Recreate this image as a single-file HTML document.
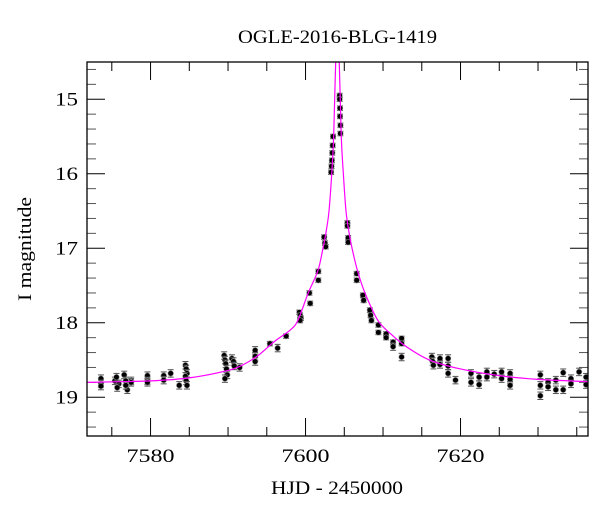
<!DOCTYPE html>
<html><head><meta charset="utf-8"><style>
html,body{margin:0;padding:0;background:#fff;}
svg text{font-family:"Liberation Serif",serif;fill:#000;}
</style></head><body>
<svg id="chart" width="600" height="512" xmlns="http://www.w3.org/2000/svg">
<text x="238" y="43" font-size="19" textLength="199" lengthAdjust="spacingAndGlyphs">OGLE-2016-BLG-1419</text>
<text x="271" y="494" font-size="19" textLength="132" lengthAdjust="spacingAndGlyphs">HJD - 2450000</text>
<text x="0" y="0" font-size="19" text-anchor="middle" textLength="104" lengthAdjust="spacingAndGlyphs" transform="translate(31,249) rotate(-90)">I magnitude</text>
<g id="plot"></g>
</svg>
<script>
const xTicksMajor = [7580, 7600, 7620];
const yTicksMajor = [15, 16, 17, 18, 19];
const modelT = [7571.8,7580,7585,7590,7592,7594,7596,7598,7599,7600.35,7601.6,7602.25,7602.65,7603.03,7603.38,7603.63,7603.89,7604.1,7604.35,7604.61,7604.88,7605.22,7605.6,7606.0,7606.7,7607.67,7609.35,7611,7613,7616,7620,7625,7630,7636.4];
const modelMag = [18.80,18.78,18.74,18.64,18.56,18.43,18.25,18.1,17.97,17.6,17.3,17.0,16.78,16.5,16.0,15.5,14.5,14.2,14.5,15.5,16.0,16.5,16.78,17.0,17.3,17.6,17.97,18.15,18.32,18.5,18.62,18.71,18.76,18.79];
const obsT = [7573.6,7573.6,7573.6,7575.4,7575.6,7575.9,7575.7,7576.6,7576.8,7577.0,7576.8,7577.5,7577.5,7579.6,7579.6,7579.6,7581.7,7581.7,7582.6,7583.7,7584.5,7584.6,7584.7,7584.5,7584.6,7584.7,7589.5,7589.6,7589.7,7589.8,7589.9,7589.6,7590.5,7590.7,7590.8,7591.5,7593.5,7593.5,7593.5,7595.4,7596.4,7597.5,7599.2,7599.3,7599.4,7599.3,7600.5,7600.6,7601.65,7601.65,7602.4,7602.5,7602.6,7603.3,7603.35,7603.4,7603.45,7603.5,7603.55,7604.4,7604.4,7604.45,7604.45,7604.5,7604.5,7605.4,7605.4,7605.5,7605.5,7606.6,7606.6,7607.4,7607.5,7608.3,7608.4,7608.5,7609.4,7609.4,7610.4,7610.4,7611.3,7611.3,7612.4,7612.4,7612.4,7616.3,7616.4,7616.5,7617.35,7617.35,7618.4,7618.4,7618.4,7619.35,7621.35,7621.35,7622.4,7622.4,7623.4,7623.4,7624.35,7625.3,7625.3,7626.4,7626.4,7626.4,7630.3,7630.3,7630.3,7631.3,7631.3,7632.3,7632.3,7633.25,7633.25,7634.25,7634.25,7635.3,7636.2,7636.2];
const obsMag = [18.75,18.82,18.85,18.78,18.73,18.82,18.87,18.7,18.78,18.9,18.84,18.78,18.8,18.71,18.78,18.8,18.71,18.77,18.68,18.84,18.57,18.62,18.68,18.72,18.78,18.84,18.44,18.5,18.55,18.62,18.7,18.75,18.48,18.52,18.58,18.6,18.37,18.45,18.52,18.28,18.34,18.18,17.86,17.9,17.94,17.97,17.6,17.74,17.31,17.43,16.85,16.93,16.98,15.98,15.9,15.82,15.72,15.62,15.5,14.95,15.0,15.12,15.23,15.35,15.46,16.66,16.7,16.86,16.92,17.34,17.43,17.63,17.7,17.83,17.9,17.97,18.03,18.13,18.15,18.2,18.26,18.32,18.21,18.28,18.46,18.46,18.52,18.57,18.48,18.56,18.48,18.58,18.68,18.77,18.68,18.8,18.73,18.83,18.66,18.73,18.69,18.66,18.75,18.68,18.76,18.84,18.7,18.84,18.98,18.8,18.86,18.77,18.9,18.67,18.9,18.75,18.82,18.66,18.73,18.83];
const obsErr = obsMag.map(m => m > 18.3 ? 0.05 : 0.03);

const L=87,R=588,T=62,B=436, X0=7571.8, X1=7636.45, Y0=14.5, Y1=19.52;
const xs = t => L + (t - X0) / (X1 - X0) * (R - L);
const ys = m => T + (m - Y0) / (Y1 - Y0) * (B - T);
const NS='http://www.w3.org/2000/svg';
const plot=document.getElementById('plot');
function mk(tag, attrs, parent){const e=document.createElementNS(NS,tag);for(const k in attrs)e.setAttribute(k,attrs[k]);(parent||plot).appendChild(e);return e;}

const clip=mk('clipPath',{id:'pc'});mk('rect',{x:L,y:T,width:R-L,height:B-T},clip);

const tg=mk('g',{stroke:'#000','stroke-width':1});


for(let t=7575;t<=7636;t+=5){
  const x=xs(t), maj=t%20===0, len=maj?18:9;
  mk('line',{x1:x,y1:B,x2:x,y2:B-len},tg);
  mk('line',{x1:x,y1:T,x2:x,y2:T+len},tg);
}
for(let i=0;i<=25;i++){
  const m=14.6+i*0.2; if(m>19.45)break;
  const y=ys(m), maj=Math.abs(m-Math.round(m))<0.01, len=maj?18:9;
  mk('line',{x1:L,y1:y,x2:L+len,y2:y,stroke:maj?'#000':'#555'},tg);
  mk('line',{x1:R,y1:y,x2:R-len,y2:y,stroke:maj?'#000':'#555'},tg);
}
xTicksMajor.forEach(t=>{
  const e=mk('text',{x:xs(t)-24,y:462,'font-size':19,textLength:48,lengthAdjust:'spacingAndGlyphs'});e.textContent=t;
  
  
});
yTicksMajor.forEach(m=>{
  const e=mk('text',{x:55,y:ys(m)+6,'font-size':19,textLength:23,lengthAdjust:'spacingAndGlyphs'});e.textContent=m;
  
  
});

const dg=mk('g',{'clip-path':'url(#pc)'});


obsT.forEach((t,i)=>{
  const x=xs(t), y=ys(obsMag[i]), e=obsErr[i]*(B-T)/(Y1-Y0);
  mk('line',{x1:x,y1:y-e,x2:x,y2:y+e,stroke:'#888','stroke-width':1.5},dg);
  mk('line',{x1:x-3,y1:y-e,x2:x+3,y2:y-e,stroke:'#555','stroke-width':1},dg);
  mk('line',{x1:x-3,y1:y+e,x2:x+3,y2:y+e,stroke:'#555','stroke-width':1},dg);
  const c=mk('circle',{cx:x,cy:y,r:2.8,fill:'#000',stroke:'#999','stroke-width':0.6},dg);
  
  
});

// smooth model curve via Catmull-Rom through read points
const P=modelT.map((t,i)=>[xs(t),ys(modelMag[i])]);
let d='M'+P[0][0].toFixed(2)+','+P[0][1].toFixed(2);
for(let i=0;i<P.length-1;i++){
  const p0=P[Math.max(0,i-1)],p1=P[i],p2=P[i+1],p3=P[Math.min(P.length-1,i+2)];
  const c1=[p1[0]+(p2[0]-p0[0])/6,p1[1]+(p2[1]-p0[1])/6];
  const c2=[p2[0]-(p3[0]-p1[0])/6,p2[1]-(p3[1]-p1[1])/6];
  d+=' C'+c1[0].toFixed(2)+','+c1[1].toFixed(2)+' '+c2[0].toFixed(2)+','+c2[1].toFixed(2)+' '+p2[0].toFixed(2)+','+p2[1].toFixed(2);
}
const p=mk('path',{d:d,fill:'none',stroke:'#ff00ff','stroke-width':1.2,'clip-path':'url(#pc)'});



const fr=mk('rect',{x:L,y:T,width:R-L,height:B-T,fill:'none',stroke:'#000','stroke-width':1.3});


</script>
</body></html>
